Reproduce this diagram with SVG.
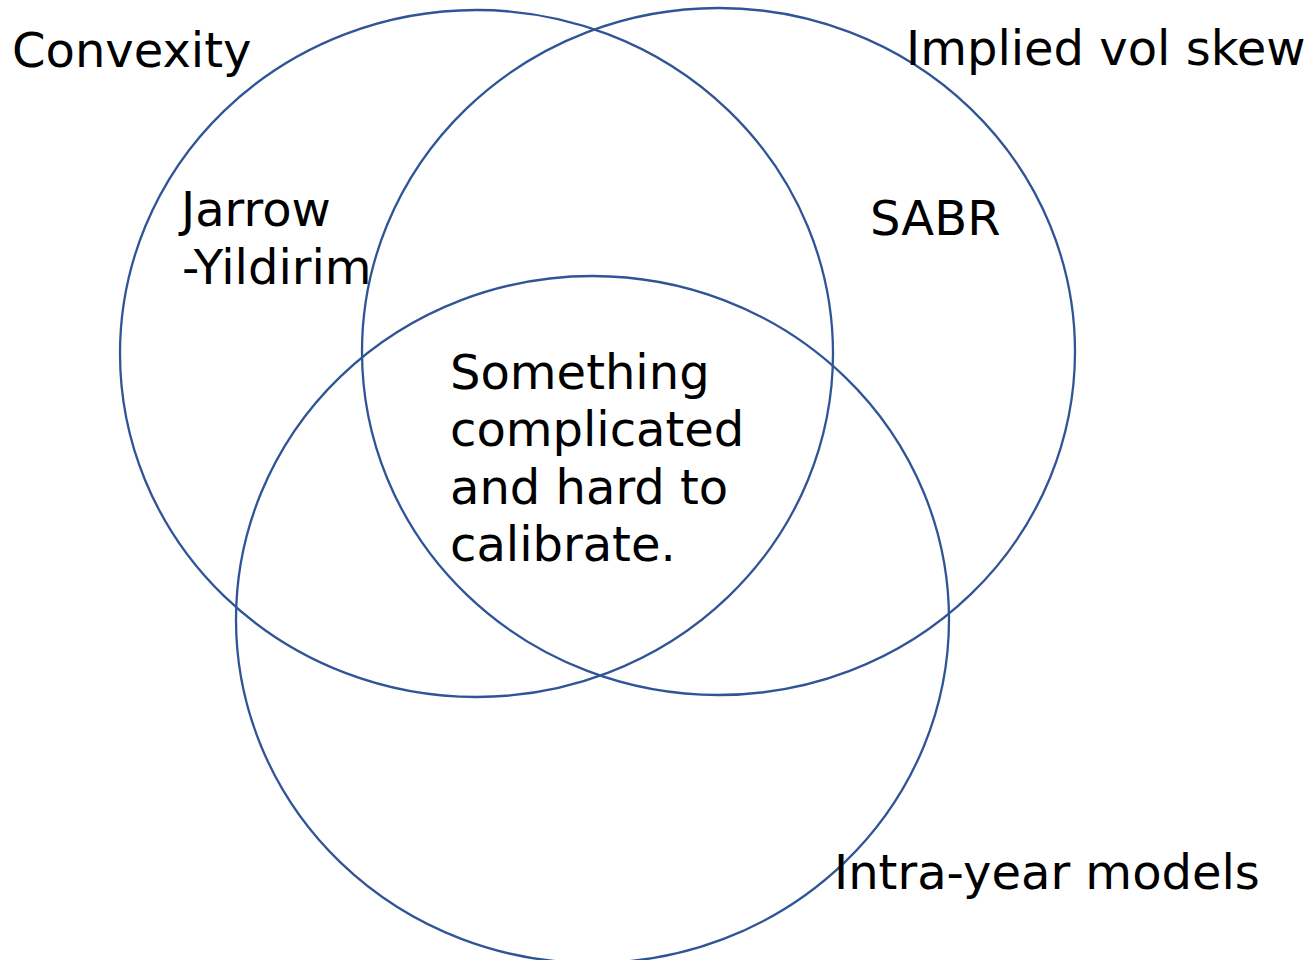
<svg xmlns="http://www.w3.org/2000/svg" width="1310" height="960" viewBox="0 0 1310 960">
  <style>
    .set { fill: none; stroke: #2F5597; stroke-width: 2.3; }
    .lbl { font-family: "DejaVu Sans", "Liberation Sans", sans-serif; font-size: 48px; fill: #000; }
  </style>
  <rect width="1310" height="960" fill="#fff"/>
  <g id="sets">
    <ellipse id="set-convexity" class="set" cx="476.5" cy="353.5" rx="356.5" ry="343.5"/>
    <ellipse id="set-skew" class="set" cx="718.5" cy="351.5" rx="356.5" ry="343.5"/>
    <ellipse id="set-intrayear" class="set" cx="592.5" cy="619.5" rx="356.5" ry="343.5"/>
  </g>
  <g id="labels">
    <text class="lbl" x="12" y="67">Convexity</text>
    <text class="lbl" x="906" y="65">Implied vol skew</text>
    <text class="lbl" x="181" y="226">Jarrow</text>
    <text class="lbl" x="182" y="284">-Yildirim</text>
    <text class="lbl" x="870" y="235">SABR</text>
    <text class="lbl" x="450" y="389">Something</text>
    <text class="lbl" x="450" y="446">complicated</text>
    <text class="lbl" x="450" y="504">and hard to</text>
    <text class="lbl" x="450" y="561">calibrate.</text>
    <text class="lbl" x="834" y="889">Intra-year models</text>
  </g>
</svg>
